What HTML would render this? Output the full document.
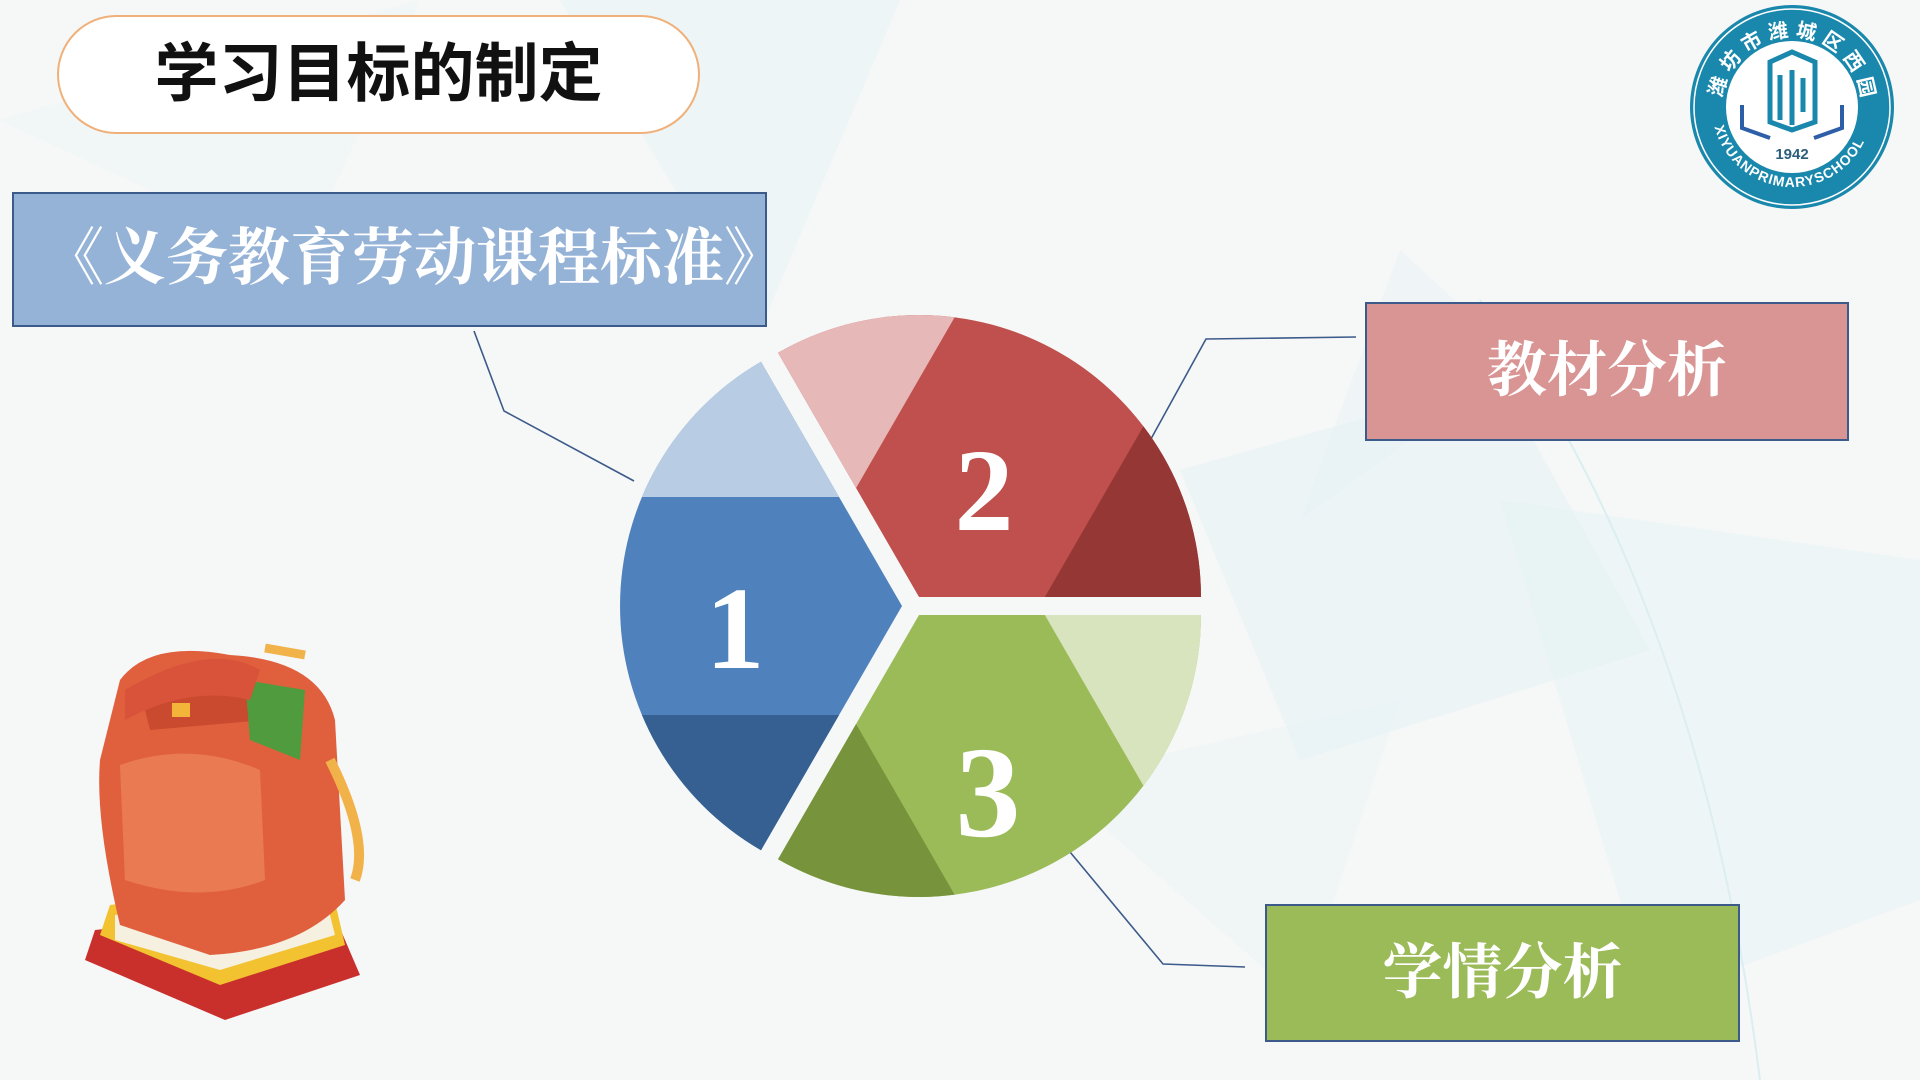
<!DOCTYPE html>
<html><head><meta charset="utf-8"><style>
html,body{margin:0;padding:0;}
body{width:1920px;height:1080px;overflow:hidden;background:#f6f7f7;font-family:"Liberation Sans","Noto Sans CJK SC",sans-serif;position:relative;}
.abs{position:absolute;}
</style></head><body>
<svg class="abs" style="left:0;top:0" width="1920" height="1080" viewBox="0 0 1920 1080">
<defs>
<path id="seg" d="M0,0 L141,-244.2 A282,282 0 0 1 141,244.2 Z" stroke-linejoin="round"/>
<clipPath id="cp"><use href="#seg"/></clipPath>
<path id="arcTop" d="M1722,107 A70,70 0 0 1 1862,107"/>
<path id="arcBot" d="M1712,107 A80,80 0 0 0 1872,107"/>
</defs>
<!-- background faint shapes -->
<polygon points="560,0 900,0 760,330" fill="#e3f1f3" opacity="0.45"/>
<polygon points="0,120 420,0 300,260" fill="#eaf4f5" opacity="0.4"/>
<polygon points="1180,470 1500,380 1650,650 1300,760" fill="#e1f0f2" opacity="0.45"/>
<polygon points="1400,250 1520,360 1300,520" fill="#e6f2f4" opacity="0.4"/>
<polygon points="1500,500 1920,560 1920,900 1650,1000" fill="#e4f1f3" opacity="0.45"/>
<polygon points="1050,780 1400,700 1300,1000" fill="#e8f2f5" opacity="0.4"/>
<path d="M1480,300 Q1700,600 1760,1080" stroke="#dbeef0" stroke-width="2" fill="none"/>

<!-- connectors -->
<g stroke="#3c5a8a" stroke-width="1.6" fill="none">
<polyline points="474,331 504,411 634,481"/>
<polyline points="1356,337 1206,339 1141,457"/>
<polyline points="1070,852 1163,964 1245,967"/>
</g>

<g transform="translate(902,606) rotate(180)">
<g clip-path="url(#cp)">
<rect x="-10" y="-300" width="320" height="600" fill="#4f81bd"/>
<rect x="-10" y="109" width="320" height="200" fill="#b8cce4"/>
<rect x="-10" y="-300" width="320" height="191" fill="#366092"/>
</g></g>
<g transform="translate(919,597) rotate(-60)">
<g clip-path="url(#cp)">
<rect x="-10" y="-300" width="320" height="600" fill="#c0504d"/>
<rect x="-10" y="109" width="320" height="200" fill="#953735"/>
<rect x="-10" y="-300" width="320" height="191" fill="#e6b8b7"/>
</g></g>
<g transform="translate(919,615) rotate(60)">
<g clip-path="url(#cp)">
<rect x="-10" y="-300" width="320" height="600" fill="#9bbb59"/>
<rect x="-10" y="109" width="320" height="200" fill="#77933c"/>
<rect x="-10" y="-300" width="320" height="191" fill="#d7e4bd"/>
</g></g>
<g font-family="Liberation Serif, serif" font-weight="bold" fill="#fff" text-anchor="middle">
<text x="735" y="668" font-size="118">1</text>
<text x="984" y="530" font-size="118">2</text>
<text x="988" y="836" font-size="130">3</text>
</g>

<!-- logo -->
<circle cx="1792" cy="107" r="102" fill="#1a88ad"/>
<circle cx="1792" cy="107" r="98" fill="none" stroke="#fff" stroke-width="1.5"/>
<circle cx="1792" cy="107" r="66" fill="#fff"/>
<text font-size="20" font-weight="bold" fill="#fff" font-family="Noto Sans CJK SC, sans-serif" letter-spacing="6"><textPath href="#arcTop" startOffset="4%">潍坊市潍城区西园小学</textPath></text>
<text font-size="14" font-weight="bold" fill="#fff" letter-spacing="1"><textPath href="#arcBot" startOffset="8%" >XIYUANPRIMARYSCHOOL</textPath></text>
<g stroke="#1a88ad" stroke-width="5" fill="none">
<path d="M1770,62 L1792,52 L1815,62 L1815,122 L1792,130 L1770,122 Z"/>
<path d="M1780,75 L1780,120 M1792,70 L1792,125 M1803,78 L1803,112"/>
</g>
<g stroke="#2d5ea8" stroke-width="4" fill="none">
<path d="M1742,105 L1742,128 L1770,138"/>
<path d="M1842,105 L1842,128 L1814,138"/>
</g>
<text x="1792" y="159" font-size="15" font-weight="bold" fill="#2b5d7d" text-anchor="middle">1942</text>

<!-- backpack -->
<g>
<polygon points="95,930 330,905 360,975 225,1020 85,960" fill="#c9302c"/>
<polygon points="110,905 330,880 345,945 220,985 100,935" fill="#f2c230"/>
<polygon points="115,915 325,895 335,935 220,970 115,940" fill="#f5f0e0"/>
<path d="M120,680 Q150,640 230,655 Q320,660 335,720 L345,900 Q300,950 210,955 L120,925 Q95,820 100,760 Z" fill="#e0603e"/>
<path d="M140,690 Q180,660 250,680 L265,720 L150,730 Z" fill="#c94a2e"/>
<path d="M245,680 L305,690 L300,760 L250,740 Z" fill="#4f9b3d"/>
<path d="M120,765 Q190,740 260,770 L265,880 Q200,905 125,880 Z" fill="#ea7a52"/>
<path d="M125,690 Q210,640 260,670 L250,700 Q190,685 125,720 Z" fill="#d9533a"/>
<rect x="172" y="703" width="18" height="14" fill="#f3b43a"/>
<path d="M330,760 Q370,840 355,880" stroke="#f2b24a" stroke-width="10" fill="none"/>
<path d="M265,648 L305,655" stroke="#f2b24a" stroke-width="9"/>
</g>
</svg>

<div class="abs" style="left:57px;top:15px;width:639px;height:115px;border:2px solid #f0b07a;border-radius:60px;background:#fff;text-align:center;line-height:115px;font-size:64px;font-weight:bold;color:#111;font-family:'Liberation Sans','Noto Sans CJK SC',sans-serif;">学习目标的制定</div>

<div class="abs" style="left:12px;top:192px;width:755px;height:135px;background:#95b3d7;border:2px solid #3c5a8a;box-sizing:border-box;color:#fff;font-size:62px;line-height:131px;padding-left:28px;white-space:nowrap;font-family:'Liberation Serif','Noto Serif CJK SC',serif;font-weight:bold;">《义务教育劳动课程标准》</div>

<div class="abs" style="left:1365px;top:302px;width:484px;height:139px;background:#d99594;border:2px solid #3c5a8a;box-sizing:border-box;color:#fff;font-size:60px;line-height:135px;text-align:center;font-family:'Liberation Serif','Noto Serif CJK SC',serif;font-weight:bold;">教材分析</div>

<div class="abs" style="left:1265px;top:904px;width:475px;height:138px;background:#9bbb59;border:2px solid #3c5a8a;box-sizing:border-box;color:#fff;font-size:60px;line-height:134px;text-align:center;font-family:'Liberation Serif','Noto Serif CJK SC',serif;font-weight:bold;">学情分析</div>
</body></html>
